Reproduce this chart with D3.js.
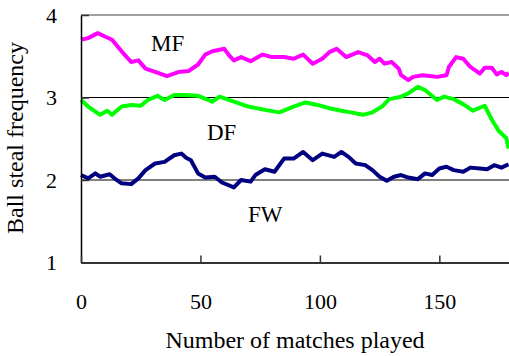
<!DOCTYPE html>
<html>
<head>
<meta charset="utf-8">
<script src="https://cdn.jsdelivr.net/npm/d3@7"></script>
<style>
  body { margin: 0; background: #fff; }
  svg text { font-family: "Liberation Serif", "Times New Roman", Times, serif !important; fill: #000; }
</style>
</head>
<body>
<div id="chart"></div>
<script>
// Ball steal frequency, moving average over matches

var WIDTH = 509;
var HEIGHT = 356;

var LEFT = 81;
var RIGHT = 511;
var TOP = 15;
var BOTTOM = 262.5;

var xTicks = [0, 50, 100, 150];
var yTicks = [1, 2, 3, 4];

var mfX = [0, 3, 7, 10, 13, 17, 21, 24, 27, 31, 36, 41, 45, 49, 52, 55, 60, 62, 64, 67, 71, 76, 80, 85, 89, 93, 97, 101, 104, 107, 111, 116, 120, 123, 125, 127, 130, 133, 134, 137, 139, 143, 146, 149, 153, 154, 157, 160, 163, 167, 169, 172, 174, 176, 178, 179];
var mfY = [3.70, 3.72, 3.78, 3.74, 3.70, 3.56, 3.43, 3.45, 3.35, 3.31, 3.26, 3.31, 3.32, 3.40, 3.52, 3.56, 3.59, 3.51, 3.45, 3.49, 3.44, 3.52, 3.49, 3.49, 3.47, 3.52, 3.41, 3.47, 3.55, 3.59, 3.49, 3.55, 3.51, 3.43, 3.47, 3.41, 3.43, 3.35, 3.27, 3.21, 3.25, 3.27, 3.26, 3.25, 3.27, 3.37, 3.49, 3.47, 3.37, 3.29, 3.36, 3.36, 3.28, 3.31, 3.27, 3.30];

var dfX = [0, 3, 8, 11, 13, 17, 21, 25, 28, 32, 35, 39, 43, 49, 55, 58, 64, 70, 77, 83, 89, 94, 99, 104, 109, 113, 118, 122, 126, 129, 134, 137, 141, 144, 149, 152, 156, 160, 164, 169, 172, 175, 178, 179];
var dfY = [2.97, 2.89, 2.79, 2.84, 2.79, 2.89, 2.91, 2.90, 2.97, 3.02, 2.97, 3.03, 3.03, 3.02, 2.95, 3.01, 2.95, 2.89, 2.85, 2.82, 2.89, 2.94, 2.91, 2.87, 2.84, 2.82, 2.79, 2.82, 2.89, 2.98, 3.01, 3.05, 3.13, 3.09, 2.97, 3.01, 2.98, 2.92, 2.84, 2.90, 2.73, 2.59, 2.51, 2.38];

var fwX = [0, 3, 6, 8, 12, 14, 17, 21, 24, 27, 31, 35, 39, 42, 44, 46, 49, 52, 56, 59, 64, 67, 71, 73, 77, 81, 85, 89, 93, 97, 101, 106, 109, 112, 115, 119, 122, 125, 128, 131, 134, 137, 141, 144, 147, 150, 153, 156, 160, 163, 167, 170, 173, 176, 179];
var fwY = [2.06, 2.02, 2.08, 2.04, 2.07, 2.02, 1.96, 1.95, 2.02, 2.12, 2.20, 2.22, 2.30, 2.32, 2.27, 2.24, 2.08, 2.03, 2.04, 1.97, 1.91, 2.00, 1.98, 2.06, 2.13, 2.10, 2.26, 2.26, 2.34, 2.24, 2.32, 2.28, 2.34, 2.28, 2.20, 2.18, 2.12, 2.04, 1.99, 2.04, 2.06, 2.03, 2.01, 2.08, 2.06, 2.14, 2.16, 2.12, 2.10, 2.15, 2.14, 2.13, 2.18, 2.15, 2.19];

var series = [
    { name: "MF", xs: mfX, ys: mfY, color: "#ff00ff", lx: 151, ly: 51 },
    { name: "DF", xs: dfX, ys: dfY, color: "#00ff00", lx: 207, ly: 140 },
    { name: "FW", xs: fwX, ys: fwY, color: "#000080", lx: 248, ly: 222 }
];

var FONT = "'Liberation Serif', 'Times New Roman', serif";

var x = d3.scaleLinear().domain([0, 180]).range([LEFT, RIGHT]);
var y = d3.scaleLinear().domain([1, 4]).range([BOTTOM, TOP]);

var svg = d3.select("#chart").append("svg")
    .attr("width", WIDTH)
    .attr("height", HEIGHT)
    .attr("font-family", FONT);

// gridlines at 2 and 3, grey frame line at 4
svg.selectAll("line.grid")
    .data([2, 3])
    .enter()
    .append("line")
    .attr("class", "grid")
    .attr("x1", LEFT).attr("x2", WIDTH)
    .attr("y1", function(d) { return y(d); })
    .attr("y2", function(d) { return y(d); })
    .attr("stroke", "#000")
    .attr("stroke-width", 1);

svg.append("line")
    .attr("x1", LEFT).attr("x2", WIDTH)
    .attr("y1", y(4)).attr("y2", y(4))
    .attr("stroke", "#808080")
    .attr("stroke-width", 1.5);

var line = d3.line()
    .x(function(d) { return x(d[0]); })
    .y(function(d) { return y(d[1]); });

series.forEach(function(s) {
    var pts = s.xs.map(function(v, i) { return [v, s.ys[i]]; });
    svg.append("path")
        .datum(pts)
        .attr("fill", "none")
        .attr("stroke", s.color)
        .attr("stroke-width", 4)
        .attr("stroke-linejoin", "round")
        .attr("d", line);

    svg.append("text")
        .attr("x", s.lx)
        .attr("y", s.ly)
        .attr("font-size", 23)
        .text(s.name);
});

// axes, ticks pointing inward
var yAxis = svg.append("g")
    .attr("transform", "translate(" + LEFT + ",0)")
    .call(d3.axisLeft(y).tickValues(yTicks).tickFormat(d3.format("d"))
        .tickSizeInner(-8).tickSizeOuter(0).tickPadding(24));

var xAxis = svg.append("g")
    .attr("transform", "translate(0," + BOTTOM + ")")
    .call(d3.axisBottom(x).tickValues(xTicks).tickFormat(d3.format("d"))
        .tickSizeInner(-7).tickSizeOuter(0).tickPadding(31));

[yAxis, xAxis].forEach(function(g) {
    g.attr("font-family", FONT).attr("font-size", 22);
    g.selectAll("text").attr("fill", "#000");
    g.selectAll("line").attr("stroke", "#333").attr("stroke-width", 1.5);
});
yAxis.select(".domain").attr("stroke", "#000").attr("stroke-width", 1.5);
xAxis.select(".domain").attr("stroke", "#333").attr("stroke-width", 2);

svg.append("text")
    .attr("x", (LEFT + WIDTH) / 2)
    .attr("y", 348)
    .attr("text-anchor", "middle")
    .attr("font-size", 24)
    .text("Number of matches played");

svg.append("text")
    .attr("transform", "translate(23,138) rotate(-90)")
    .attr("text-anchor", "middle")
    .attr("font-size", 24)
    .text("Ball steal frequency");
</script>
</body>
</html>
